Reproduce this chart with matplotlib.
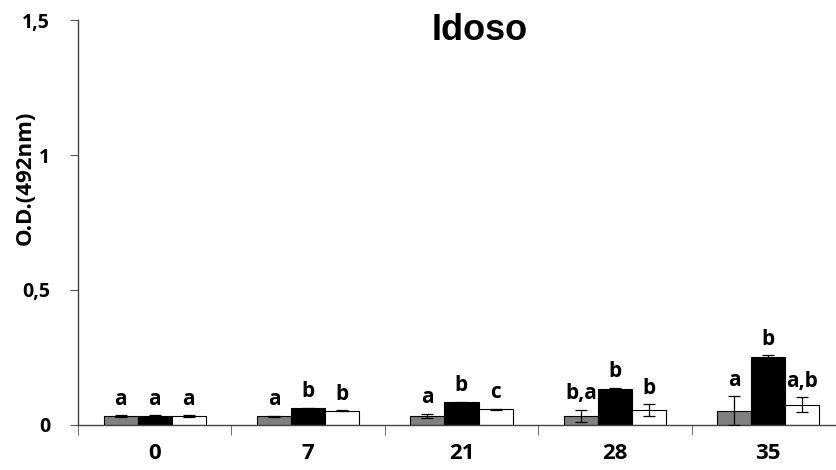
import matplotlib
matplotlib.use("Agg")
import matplotlib.pyplot as plt
import numpy as np

days = ["0", "7", "21", "28", "35"]
gray_vals = [0.033, 0.033, 0.033, 0.033, 0.053]
gray_err = [0.003, 0.002, 0.008, 0.023, 0.053]
black_vals = [0.033, 0.062, 0.085, 0.135, 0.252]
black_err = [0.003, 0.002, 0.002, 0.002, 0.007]
white_vals = [0.033, 0.053, 0.059, 0.055, 0.075]
white_err = [0.003, 0.002, 0.002, 0.022, 0.027]
gray_letters = ["a", "a", "a", "b,a", "a"]
black_letters = ["a", "b", "b", "b", "b"]
white_letters = ["a", "b", "c", "b", "a,b"]

W, H = 837, 470
fig = plt.figure(figsize=(W / 100, H / 100), dpi=100)
fig.patch.set_facecolor("white")
ax = fig.add_axes([78 / W, 45 / H, (845 - 78) / W, 405 / H])

x = np.arange(len(days))
bw = 0.222
series = [
    (gray_vals, gray_err, "#808080", gray_letters, -bw),
    (black_vals, black_err, "black", black_letters, 0),
    (white_vals, white_err, "white", white_letters, bw),
]
for vals, err, col, letters, off in series:
    ax.bar(x + off, vals, bw, color=col, edgecolor="black", linewidth=0.8, zorder=2)
    ax.errorbar(x + off, vals, yerr=err, fmt="none", ecolor="black",
                elinewidth=0.9, capsize=4, capthick=0.9, zorder=3)
    for xi, v, e, lab in zip(x + off, vals, err, letters):
        ax.annotate(lab, (xi, v + e), xytext=(0, 4), textcoords="offset points",
                    ha="center", va="bottom", fontsize=15, fontweight="bold",
                    family="Open Sans")

ax.set_xlim(-0.5, 4.5)
ax.set_ylim(0, 1.5)
ax.set_yticks([0, 0.5, 1, 1.5])
ax.set_yticklabels(["0", "0,5", "1", "1,5"], fontsize=14, fontweight="bold",
                   family="Open Sans")
ax.set_xticks(x)
ax.set_xticklabels(days, fontsize=16, fontweight="bold", family="Open Sans")
ax.tick_params(axis="x", length=0, pad=13)
ax.set_xticks(np.arange(-0.5, 5, 1), minor=True)
ax.tick_params(axis="x", which="minor", length=7, direction="out", color="#555555")
ax.tick_params(axis="y", length=6, direction="out", color="#555555", pad=14)

for s in ["top", "right"]:
    ax.spines[s].set_visible(False)
for s in ["left", "bottom"]:
    ax.spines[s].set_color("#444444")
    ax.spines[s].set_linewidth(1.0)

fig.text(25 / W, 1 - 178 / H, "O.D.(492nm)", rotation=90, ha="center", va="center",
         fontsize=16, fontweight="bold", family="Open Sans")
fig.text(480 / W, 1 - 30 / H, "Idoso", ha="center", va="center", fontsize=26,
         fontweight="bold", family="Liberation Sans")

fig.savefig("out.png", dpi=100)
